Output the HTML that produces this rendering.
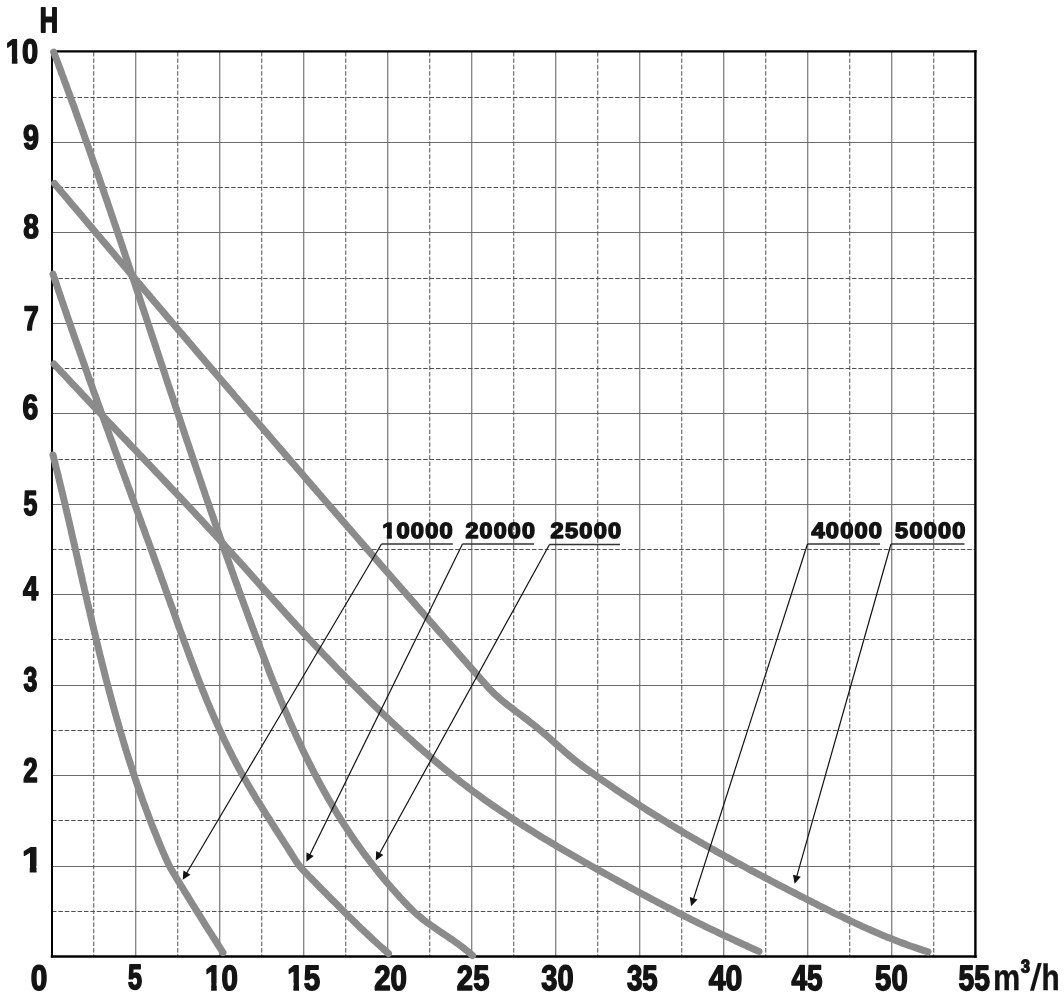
<!DOCTYPE html>
<html><head><meta charset="utf-8"><title>Pump curves</title>
<style>
html,body{margin:0;padding:0;background:#fff;}
body{width:1064px;height:1000px;overflow:hidden;}
svg{display:block;}
.t text{text-rendering:geometricPrecision;font-family:"Liberation Sans",Arial,sans-serif;font-weight:bold;font-size:100px;fill:#141414;stroke:#141414;stroke-linejoin:round;}
.t{opacity:0.999;}
</style></head><body>
<svg width="1064" height="1000" viewBox="0 0 1064 1000">
<rect width="1064" height="1000" fill="#fff"/>
<path d="M135.75,52V956M219.75,52V956M303.75,52V956M387.75,52V956M471.75,52V956M555.75,52V956M639.75,52V956M723.75,52V956M807.75,52V956M891.75,52V956M52,866.50H976M52,775.50H976M52,685.50H976M52,594.50H976M52,504.50H976M52,413.50H976M52,323.50H976M52,232.50H976M52,142.50H976" fill="none" stroke="#6a6a6a" stroke-width="1.1"/>
<path d="M93.75,52V956M177.75,52V956M261.75,52V956M345.75,52V956M429.75,52V956M513.75,52V956M597.75,52V956M681.75,52V956M765.75,52V956M849.75,52V956M933.75,52V956M52,911.50H976M52,820.50H976M52,730.50H976M52,639.50H976M52,549.50H976M52,459.50H976M52,368.50H976M52,278.50H976M52,187.50H976M52,97.50H976" fill="none" stroke="#505050" stroke-width="1" stroke-dasharray="4.5 1.9"/>
<g stroke="#000" fill="none" stroke-linecap="square"><path d="M52,51.4V956.6" stroke-width="2"/><path d="M52,51.4H975.4" stroke-width="2.4"/><path d="M975.4,51.4V956.6" stroke-width="2.4"/><path d="M52,956.6H975.4" stroke-width="2.5"/></g>
<g fill="none" stroke="#8b8b8b" stroke-width="7" stroke-linecap="round" stroke-linejoin="round">
<path d="M53.0,455.0 L53.8,458.0 L54.5,460.9 L55.2,463.8 L55.9,466.7 L56.6,469.6 L57.4,472.5 L58.1,475.4 L58.8,478.3 L59.5,481.2 L60.2,484.2 L60.9,487.1 L61.6,490.0 L62.3,492.9 L63.0,495.8 L63.7,498.8 L64.4,501.7 L65.1,504.6 L65.7,507.5 L66.4,510.5 L67.1,513.4 L67.8,516.3 L68.5,519.2 L69.2,522.2 L69.8,525.1 L70.5,528.0 L71.2,531.0 L71.8,533.9 L72.5,536.8 L73.2,539.7 L73.9,542.7 L74.5,545.6 L75.2,548.5 L75.9,551.5 L76.5,554.4 L77.2,557.3 L77.9,560.2 L78.5,563.2 L79.2,566.1 L79.9,569.0 L80.5,572.0 L81.2,574.9 L81.9,577.8 L82.5,580.7 L83.2,583.7 L83.9,586.6 L84.5,589.5 L85.2,592.5 L85.9,595.4 L86.6,598.3 L87.2,601.2 L87.9,604.2 L88.6,607.1 L89.3,610.0 L90.0,612.9 L90.6,615.9 L91.3,618.8 L92.0,621.7 L92.7,624.6 L93.4,627.6 L94.1,630.5 L94.8,633.4 L95.5,636.3 L96.2,639.2 L96.9,642.2 L97.6,645.1 L98.3,648.0 L99.0,650.9 L99.7,653.8 L100.5,656.8 L101.2,659.7 L101.9,662.6 L102.6,665.5 L103.4,668.4 L104.1,671.3 L104.8,674.2 L105.6,677.1 L106.3,680.1 L107.1,683.0 L107.9,685.9 L108.6,688.8 L109.4,691.7 L110.2,694.6 L110.9,697.5 L111.7,700.4 L112.5,703.3 L113.3,706.2 L114.1,709.1 L114.9,712.0 L115.7,714.9 L116.5,717.8 L117.3,720.6 L118.2,723.5 L119.0,726.4 L119.8,729.3 L120.7,732.2 L121.5,735.1 L122.4,738.0 L123.2,740.8 L124.1,743.7 L125.0,746.6 L125.8,749.5 L126.7,752.3 L127.6,755.2 L128.5,758.1 L129.4,760.9 L130.3,763.8 L131.3,766.6 L132.2,769.5 L133.1,772.4 L134.1,775.2 L135.0,778.1 L136.0,780.9 L136.9,783.7 L137.9,786.6 L138.9,789.4 L139.9,792.3 L140.9,795.1 L141.9,797.9 L142.9,800.8 L143.9,803.6 L145.0,806.4 L146.0,809.2 L147.1,812.0 L148.1,814.8 L149.2,817.7 L150.3,820.5 L151.3,823.3 L152.4,826.1 L153.5,828.9 L154.6,831.6 L155.8,834.4 L156.9,837.2 L158.0,840.0 L159.2,842.8 L160.3,845.5 L161.5,848.3 L162.7,851.1 L163.9,853.8 L165.1,856.6 L166.3,859.3 L167.5,862.1 L168.8,864.8 L170.2,867.4 L171.7,870.0 L173.2,872.6 L174.8,875.2 L176.3,877.8 L177.9,880.3 L179.4,882.9 L181.0,885.5 L182.6,888.0 L184.1,890.6 L185.7,893.1 L187.3,895.7 L188.9,898.3 L190.4,900.8 L192.0,903.4 L193.6,905.9 L195.2,908.5 L196.8,911.0 L198.4,913.6 L200.0,916.1 L201.5,918.7 L203.1,921.2 L204.7,923.8 L206.3,926.3 L207.9,928.9 L209.5,931.4 L211.2,933.9 L212.8,936.5 L214.4,939.0 L216.0,941.5 L217.6,944.1 L219.2,946.6 L220.8,949.0 L222.4,951.6 L223.0,952.5"/>
<path d="M53.0,274.0 L54.0,277.0 L54.9,279.7 L55.9,282.6 L56.8,285.4 L57.8,288.2 L58.7,291.1 L59.7,293.9 L60.6,296.8 L61.6,299.6 L62.6,302.4 L63.5,305.3 L64.5,308.1 L65.5,311.0 L66.5,313.8 L67.4,316.6 L68.4,319.5 L69.4,322.3 L70.4,325.2 L71.3,328.0 L72.3,330.8 L73.3,333.7 L74.3,336.5 L75.3,339.3 L76.3,342.2 L77.3,345.0 L78.3,347.8 L79.3,350.7 L80.3,353.5 L81.3,356.3 L82.3,359.2 L83.3,362.0 L84.3,364.8 L85.3,367.7 L86.3,370.5 L87.3,373.3 L88.3,376.1 L89.3,379.0 L90.3,381.8 L91.3,384.6 L92.3,387.4 L93.3,390.3 L94.3,393.1 L95.3,395.9 L96.4,398.7 L97.4,401.6 L98.4,404.4 L99.4,407.2 L100.4,410.0 L101.4,412.9 L102.5,415.7 L103.5,418.5 L104.5,421.3 L105.5,424.2 L106.5,427.0 L107.6,429.8 L108.6,432.6 L109.6,435.4 L110.6,438.3 L111.7,441.1 L112.7,443.9 L113.7,446.7 L114.7,449.5 L115.8,452.4 L116.8,455.2 L117.8,458.0 L118.9,460.8 L119.9,463.6 L120.9,466.5 L121.9,469.3 L123.0,472.1 L124.0,474.9 L125.0,477.7 L126.1,480.6 L127.1,483.4 L128.1,486.2 L129.2,489.0 L130.2,491.8 L131.2,494.7 L132.2,497.5 L133.3,500.3 L134.3,503.1 L135.3,505.9 L136.4,508.8 L137.4,511.6 L138.4,514.4 L139.4,517.2 L140.5,520.0 L141.5,522.9 L142.5,525.7 L143.6,528.5 L144.6,531.3 L145.6,534.1 L146.6,537.0 L147.7,539.8 L148.7,542.6 L149.7,545.4 L150.7,548.2 L151.8,551.1 L152.8,553.9 L153.8,556.7 L154.8,559.5 L155.8,562.4 L156.9,565.2 L157.9,568.0 L158.9,570.8 L159.9,573.6 L160.9,576.5 L161.9,579.3 L163.0,582.1 L164.0,584.9 L165.0,587.8 L166.0,590.6 L167.0,593.4 L168.0,596.3 L169.0,599.1 L170.0,601.9 L171.0,604.7 L172.1,607.6 L173.1,610.4 L174.1,613.2 L175.1,616.0 L176.1,618.9 L177.1,621.7 L178.1,624.5 L179.1,627.3 L180.1,630.2 L181.2,633.0 L182.2,635.8 L183.2,638.6 L184.2,641.5 L185.3,644.3 L186.3,647.1 L187.3,649.9 L188.4,652.7 L189.4,655.5 L190.4,658.4 L191.5,661.2 L192.6,664.0 L193.6,666.8 L194.7,669.6 L195.8,672.4 L196.8,675.2 L197.9,678.0 L199.0,680.8 L200.1,683.6 L201.2,686.4 L202.3,689.2 L203.4,692.0 L204.6,694.7 L205.7,697.5 L206.8,700.3 L208.0,703.1 L209.2,705.8 L210.3,708.6 L211.5,711.4 L212.7,714.1 L213.9,716.9 L215.1,719.6 L216.3,722.4 L217.5,725.1 L218.8,727.8 L220.0,730.6 L221.3,733.3 L222.6,736.0 L223.8,738.7 L225.1,741.4 L226.4,744.1 L227.7,746.8 L229.1,749.5 L230.4,752.2 L231.8,754.9 L233.1,757.6 L234.5,760.2 L235.9,762.9 L237.3,765.5 L238.7,768.2 L240.2,770.8 L241.6,773.4 L243.1,776.1 L244.6,778.7 L246.1,781.3 L247.6,783.9 L249.1,786.5 L250.6,789.0 L252.1,791.6 L253.7,794.2 L255.2,796.8 L256.8,799.3 L258.4,801.9 L260.0,804.4 L261.6,807.0 L263.1,809.5 L264.7,812.1 L266.3,814.6 L268.0,817.1 L269.6,819.7 L271.2,822.2 L272.8,824.7 L274.4,827.3 L276.0,829.8 L277.7,832.3 L279.3,834.8 L280.9,837.4 L282.5,839.9 L284.1,842.4 L285.8,844.9 L287.4,847.5 L289.0,850.0 L290.6,852.5 L292.2,855.1 L293.8,857.6 L295.4,860.2 L297.0,862.7 L298.8,865.1 L300.6,867.4 L302.6,869.6 L304.7,871.8 L306.8,873.9 L308.9,876.1 L311.0,878.2 L313.1,880.4 L315.2,882.5 L317.3,884.7 L319.4,886.8 L321.5,889.0 L323.6,891.1 L325.7,893.2 L327.8,895.4 L329.9,897.5 L332.0,899.6 L334.2,901.8 L336.3,903.9 L338.4,906.0 L340.5,908.2 L342.6,910.3 L344.8,912.4 L346.9,914.5 L349.0,916.6 L351.2,918.7 L353.3,920.8 L355.5,922.9 L357.6,925.0 L359.8,927.1 L361.9,929.2 L364.1,931.2 L366.3,933.3 L368.5,935.4 L370.7,937.4 L372.9,939.5 L375.1,941.5 L377.3,943.5 L379.5,945.5 L381.7,947.5 L384.0,949.5 L386.1,951.4 L388.5,953.5 L388.5,953.5"/>
<path d="M53.7,52.0 L54.8,54.9 L55.9,57.7 L56.9,60.4 L58.0,63.2 L59.0,66.1 L60.1,68.9 L61.1,71.7 L62.1,74.5 L63.2,77.3 L64.2,80.1 L65.3,83.0 L66.3,85.8 L67.3,88.6 L68.3,91.4 L69.4,94.2 L70.4,97.1 L71.4,99.9 L72.5,102.7 L73.5,105.5 L74.5,108.3 L75.5,111.2 L76.5,114.0 L77.5,116.8 L78.6,119.7 L79.6,122.5 L80.6,125.3 L81.6,128.1 L82.6,131.0 L83.6,133.8 L84.6,136.6 L85.6,139.5 L86.6,142.3 L87.6,145.1 L88.6,147.9 L89.6,150.8 L90.6,153.6 L91.6,156.4 L92.6,159.3 L93.5,162.1 L94.5,165.0 L95.5,167.8 L96.5,170.6 L97.5,173.5 L98.5,176.3 L99.5,179.1 L100.4,182.0 L101.4,184.8 L102.4,187.6 L103.4,190.5 L104.3,193.3 L105.3,196.2 L106.3,199.0 L107.3,201.8 L108.2,204.7 L109.2,207.5 L110.2,210.4 L111.1,213.2 L112.1,216.1 L113.1,218.9 L114.0,221.7 L115.0,224.6 L116.0,227.4 L116.9,230.3 L117.9,233.1 L118.8,236.0 L119.8,238.8 L120.8,241.7 L121.7,244.5 L122.7,247.3 L123.6,250.2 L124.6,253.0 L125.5,255.9 L126.5,258.7 L127.5,261.6 L128.4,264.4 L129.4,267.3 L130.3,270.1 L131.3,273.0 L132.2,275.8 L133.2,278.7 L134.1,281.5 L135.1,284.4 L136.0,287.2 L137.0,290.1 L137.9,292.9 L138.9,295.7 L139.8,298.6 L140.7,301.4 L141.7,304.3 L142.6,307.1 L143.6,310.0 L144.5,312.8 L145.5,315.7 L146.4,318.5 L147.4,321.4 L148.3,324.2 L149.3,327.1 L150.2,329.9 L151.1,332.8 L152.1,335.6 L153.0,338.5 L154.0,341.3 L154.9,344.2 L155.9,347.0 L156.8,349.9 L157.8,352.7 L158.7,355.6 L159.6,358.4 L160.6,361.3 L161.5,364.1 L162.5,367.0 L163.4,369.8 L164.4,372.7 L165.3,375.5 L166.2,378.4 L167.2,381.2 L168.1,384.1 L169.1,386.9 L170.0,389.8 L171.0,392.6 L171.9,395.5 L172.9,398.3 L173.8,401.2 L174.8,404.0 L175.7,406.9 L176.7,409.7 L177.6,412.6 L178.6,415.4 L179.5,418.3 L180.5,421.1 L181.4,424.0 L182.4,426.8 L183.3,429.7 L184.3,432.5 L185.2,435.4 L186.2,438.2 L187.1,441.1 L188.1,443.9 L189.1,446.7 L190.0,449.6 L191.0,452.4 L191.9,455.3 L192.9,458.1 L193.8,461.0 L194.8,463.8 L195.8,466.7 L196.7,469.5 L197.7,472.3 L198.7,475.2 L199.6,478.0 L200.6,480.9 L201.6,483.7 L202.5,486.6 L203.5,489.4 L204.5,492.2 L205.4,495.1 L206.4,497.9 L207.4,500.8 L208.4,503.6 L209.3,506.4 L210.3,509.3 L211.3,512.1 L212.3,515.0 L213.3,517.8 L214.2,520.6 L215.2,523.5 L216.2,526.3 L217.2,529.1 L218.2,532.0 L219.2,534.8 L220.2,537.6 L221.2,540.5 L222.2,543.3 L223.2,546.1 L224.1,549.0 L225.1,551.8 L226.1,554.6 L227.1,557.5 L228.2,560.3 L229.2,563.1 L230.2,565.9 L231.2,568.8 L232.2,571.6 L233.2,574.4 L234.2,577.3 L235.2,580.1 L236.2,582.9 L237.3,585.7 L238.3,588.6 L239.3,591.4 L240.3,594.2 L241.3,597.0 L242.4,599.8 L243.4,602.7 L244.4,605.5 L245.5,608.3 L246.5,611.1 L247.5,613.9 L248.6,616.8 L249.6,619.6 L250.7,622.4 L251.7,625.2 L252.7,628.0 L253.8,630.8 L254.8,633.6 L255.9,636.5 L257.0,639.3 L258.0,642.1 L259.1,644.9 L260.1,647.7 L261.2,650.5 L262.3,653.3 L263.3,656.1 L264.4,658.9 L265.5,661.7 L266.6,664.5 L267.7,667.3 L268.7,670.1 L269.8,672.9 L270.9,675.7 L272.0,678.5 L273.1,681.3 L274.3,684.1 L275.4,686.9 L276.5,689.6 L277.6,692.4 L278.8,695.2 L279.9,698.0 L281.0,700.8 L282.2,703.5 L283.3,706.3 L284.5,709.1 L285.7,711.8 L286.9,714.6 L288.1,717.4 L289.2,720.1 L290.4,722.9 L291.7,725.6 L292.9,728.4 L294.1,731.1 L295.3,733.8 L296.6,736.6 L297.8,739.3 L299.1,742.0 L300.4,744.7 L301.6,747.5 L302.9,750.2 L304.2,752.9 L305.5,755.6 L306.9,758.3 L308.2,761.0 L309.5,763.7 L310.9,766.3 L312.2,769.0 L313.6,771.7 L315.0,774.3 L316.4,777.0 L317.8,779.7 L319.2,782.3 L320.6,784.9 L322.1,787.6 L323.5,790.2 L325.0,792.8 L326.5,795.4 L327.9,798.1 L329.4,800.7 L331.0,803.2 L332.5,805.8 L334.0,808.4 L335.6,811.0 L337.1,813.5 L338.7,816.1 L340.3,818.6 L341.9,821.2 L343.5,823.7 L345.2,826.2 L346.8,828.7 L348.5,831.2 L350.1,833.7 L351.8,836.2 L353.5,838.7 L355.2,841.2 L356.9,843.6 L358.7,846.1 L360.4,848.5 L362.2,851.0 L363.9,853.4 L365.7,855.8 L367.5,858.2 L369.3,860.6 L371.2,863.0 L373.0,865.3 L374.9,867.7 L376.7,870.1 L378.6,872.4 L380.5,874.7 L382.4,877.1 L384.3,879.4 L386.3,881.7 L388.2,884.0 L390.2,886.2 L392.1,888.5 L394.1,890.7 L396.1,893.0 L398.1,895.2 L400.1,897.4 L402.2,899.6 L404.2,901.8 L406.3,904.0 L408.4,906.2 L410.5,908.3 L412.6,910.5 L414.8,912.5 L417.0,914.5 L419.3,916.4 L421.6,918.3 L424.0,920.2 L426.4,922.0 L428.8,923.7 L431.3,925.5 L433.7,927.2 L436.2,928.9 L438.7,930.6 L441.2,932.3 L443.7,934.0 L446.2,935.6 L448.6,937.3 L451.1,939.0 L453.6,940.7 L456.0,942.5 L458.5,944.2 L460.9,946.0 L463.3,947.8 L465.6,949.7 L467.9,951.5 L470.1,953.4 L472.5,955.5 L472.5,955.5"/>
<path d="M54.0,364.0 L56.0,366.2 L58.1,368.4 L60.2,370.6 L62.2,372.8 L64.3,375.0 L66.3,377.2 L68.4,379.4 L70.4,381.6 L72.5,383.8 L74.6,386.0 L76.6,388.2 L78.7,390.4 L80.8,392.6 L82.8,394.8 L84.9,397.0 L87.0,399.2 L89.0,401.4 L91.1,403.6 L93.2,405.8 L95.2,408.0 L97.3,410.1 L99.4,412.3 L101.5,414.5 L103.5,416.7 L105.6,418.9 L107.7,421.1 L109.8,423.3 L111.8,425.4 L113.9,427.6 L116.0,429.8 L118.1,432.0 L120.1,434.2 L122.2,436.4 L124.3,438.5 L126.4,440.7 L128.5,442.9 L130.5,445.1 L132.6,447.3 L134.7,449.4 L136.8,451.6 L138.8,453.8 L140.9,456.0 L143.0,458.2 L145.1,460.4 L147.1,462.5 L149.2,464.7 L151.3,466.9 L153.4,469.1 L155.4,471.3 L157.5,473.5 L159.6,475.6 L161.7,477.8 L163.7,480.0 L165.8,482.2 L167.9,484.4 L169.9,486.6 L172.0,488.8 L174.1,491.0 L176.1,493.1 L178.2,495.3 L180.3,497.5 L182.3,499.7 L184.4,501.9 L186.4,504.1 L188.5,506.3 L190.5,508.5 L192.6,510.7 L194.7,512.9 L196.7,515.1 L198.8,517.3 L200.8,519.5 L202.8,521.7 L204.9,523.9 L206.9,526.1 L209.0,528.3 L211.0,530.5 L213.1,532.8 L215.1,535.0 L217.1,537.2 L219.2,539.4 L221.2,541.6 L223.2,543.9 L225.2,546.1 L227.3,548.3 L229.3,550.5 L231.3,552.8 L233.3,555.0 L235.3,557.2 L237.3,559.5 L239.3,561.7 L241.3,563.9 L243.4,566.2 L245.4,568.4 L247.4,570.6 L249.4,572.9 L251.4,575.1 L253.4,577.4 L255.4,579.6 L257.4,581.8 L259.4,584.1 L261.4,586.3 L263.4,588.6 L265.4,590.8 L267.4,593.0 L269.4,595.3 L271.4,597.5 L273.4,599.8 L275.4,602.0 L277.4,604.2 L279.4,606.5 L281.4,608.7 L283.5,610.9 L285.5,613.2 L287.5,615.4 L289.5,617.6 L291.5,619.8 L293.6,622.1 L295.6,624.3 L297.6,626.5 L299.6,628.7 L301.7,630.9 L303.7,633.1 L305.8,635.3 L307.8,637.6 L309.9,639.8 L311.9,641.9 L314.0,644.1 L316.0,646.3 L318.1,648.5 L320.2,650.7 L322.2,652.9 L324.3,655.1 L326.4,657.2 L328.5,659.4 L330.6,661.6 L332.6,663.7 L334.7,665.9 L336.8,668.1 L338.9,670.2 L341.0,672.4 L343.2,674.5 L345.3,676.7 L347.4,678.8 L349.5,681.0 L351.6,683.1 L353.8,685.2 L355.9,687.4 L358.0,689.5 L360.2,691.6 L362.3,693.7 L364.5,695.8 L366.6,698.0 L368.8,700.1 L370.9,702.2 L373.1,704.3 L375.2,706.4 L377.4,708.5 L379.6,710.6 L381.8,712.7 L383.9,714.7 L386.1,716.8 L388.3,718.9 L390.5,721.0 L392.7,723.1 L394.9,725.1 L397.1,727.2 L399.3,729.2 L401.5,731.3 L403.8,733.3 L406.0,735.4 L408.2,737.4 L410.5,739.4 L412.7,741.4 L414.9,743.5 L417.2,745.5 L419.5,747.5 L421.7,749.5 L424.0,751.5 L426.3,753.4 L428.5,755.4 L430.8,757.4 L433.1,759.3 L435.4,761.3 L437.7,763.2 L440.0,765.2 L442.3,767.1 L444.7,769.0 L447.0,770.9 L449.3,772.8 L451.7,774.7 L454.0,776.6 L456.4,778.4 L458.8,780.3 L461.1,782.2 L463.5,784.0 L465.9,785.8 L468.3,787.7 L470.7,789.5 L473.1,791.3 L475.5,793.0 L477.9,794.8 L480.4,796.6 L482.8,798.4 L485.2,800.1 L487.7,801.8 L490.2,803.6 L492.6,805.3 L495.1,807.0 L497.6,808.7 L500.1,810.4 L502.6,812.1 L505.0,813.7 L507.6,815.4 L510.1,817.1 L512.6,818.7 L515.1,820.3 L517.6,822.0 L520.1,823.6 L522.7,825.2 L525.2,826.8 L527.8,828.4 L530.3,830.0 L532.9,831.6 L535.4,833.2 L538.0,834.8 L540.6,836.4 L543.1,837.9 L545.7,839.5 L548.3,841.0 L550.9,842.6 L553.5,844.1 L556.1,845.7 L558.6,847.2 L561.2,848.7 L563.8,850.2 L566.4,851.7 L569.1,853.3 L571.7,854.8 L574.3,856.3 L576.9,857.8 L579.5,859.3 L582.1,860.8 L584.7,862.3 L587.4,863.7 L590.0,865.2 L592.6,866.7 L595.2,868.2 L597.9,869.7 L600.5,871.1 L603.1,872.6 L605.8,874.1 L608.4,875.5 L611.0,877.0 L613.7,878.5 L616.3,879.9 L618.9,881.4 L621.6,882.8 L624.2,884.3 L626.9,885.7 L629.5,887.2 L632.2,888.6 L634.8,890.0 L637.5,891.5 L640.1,892.9 L642.8,894.3 L645.4,895.7 L648.1,897.1 L650.8,898.6 L653.4,900.0 L656.1,901.4 L658.8,902.8 L661.4,904.2 L664.1,905.6 L666.8,907.0 L669.5,908.3 L672.1,909.7 L674.8,911.1 L677.5,912.5 L680.2,913.8 L682.9,915.2 L685.5,916.6 L688.2,917.9 L690.9,919.3 L693.6,920.6 L696.3,922.0 L699.0,923.3 L701.7,924.6 L704.4,926.0 L707.1,927.3 L709.8,928.6 L712.5,929.9 L715.3,931.2 L718.0,932.5 L720.7,933.8 L723.4,935.1 L726.1,936.4 L728.9,937.7 L731.6,938.9 L734.3,940.2 L737.0,941.5 L739.8,942.7 L742.5,944.0 L745.3,945.2 L748.0,946.5 L750.7,947.7 L753.5,949.0 L756.2,950.2 L759.0,951.4"/>
<path d="M54.5,183.5 L56.5,185.9 L58.4,188.1 L60.3,190.4 L62.2,192.7 L64.2,195.0 L66.1,197.3 L68.0,199.6 L70.0,201.9 L71.9,204.2 L73.8,206.5 L75.8,208.8 L77.7,211.0 L79.6,213.3 L81.6,215.6 L83.5,217.9 L85.4,220.2 L87.4,222.5 L89.3,224.8 L91.2,227.1 L93.2,229.4 L95.1,231.7 L97.0,234.0 L99.0,236.3 L100.9,238.6 L102.8,240.9 L104.8,243.1 L106.7,245.4 L108.7,247.7 L110.6,250.0 L112.5,252.3 L114.5,254.6 L116.4,256.9 L118.3,259.2 L120.3,261.5 L122.2,263.8 L124.2,266.1 L126.1,268.3 L128.0,270.6 L130.0,272.9 L131.9,275.2 L133.9,277.5 L135.8,279.8 L137.7,282.1 L139.7,284.4 L141.6,286.6 L143.6,288.9 L145.5,291.2 L147.5,293.5 L149.4,295.8 L151.3,298.1 L153.3,300.4 L155.2,302.7 L157.2,304.9 L159.1,307.2 L161.1,309.5 L163.0,311.8 L165.0,314.1 L166.9,316.4 L168.8,318.7 L170.8,320.9 L172.7,323.2 L174.7,325.5 L176.6,327.8 L178.6,330.1 L180.5,332.4 L182.5,334.6 L184.4,336.9 L186.4,339.2 L188.3,341.5 L190.3,343.8 L192.2,346.1 L194.1,348.3 L196.1,350.6 L198.0,352.9 L200.0,355.2 L201.9,357.5 L203.9,359.7 L205.8,362.0 L207.8,364.3 L209.7,366.6 L211.7,368.9 L213.6,371.1 L215.6,373.4 L217.5,375.7 L219.5,378.0 L221.4,380.3 L223.4,382.5 L225.3,384.8 L227.3,387.1 L229.3,389.4 L231.2,391.7 L233.2,393.9 L235.1,396.2 L237.1,398.5 L239.0,400.8 L241.0,403.0 L242.9,405.3 L244.9,407.6 L246.8,409.9 L248.8,412.2 L250.7,414.4 L252.7,416.7 L254.7,419.0 L256.6,421.3 L258.6,423.5 L260.5,425.8 L262.5,428.1 L264.4,430.4 L266.4,432.6 L268.4,434.9 L270.3,437.2 L272.3,439.5 L274.2,441.7 L276.2,444.0 L278.1,446.3 L280.1,448.6 L282.1,450.8 L284.0,453.1 L286.0,455.4 L287.9,457.6 L289.9,459.9 L291.9,462.2 L293.8,464.5 L295.8,466.7 L297.7,469.0 L299.7,471.3 L301.7,473.5 L303.6,475.8 L305.6,478.1 L307.5,480.4 L309.5,482.6 L311.5,484.9 L313.4,487.2 L315.4,489.4 L317.4,491.7 L319.3,494.0 L321.3,496.2 L323.2,498.5 L325.2,500.8 L327.2,503.0 L329.1,505.3 L331.1,507.6 L333.1,509.8 L335.0,512.1 L337.0,514.4 L339.0,516.7 L340.9,518.9 L342.9,521.2 L344.9,523.5 L346.8,525.7 L348.8,528.0 L350.8,530.2 L352.7,532.5 L354.7,534.8 L356.7,537.0 L358.6,539.3 L360.6,541.6 L362.6,543.8 L364.5,546.1 L366.5,548.4 L368.5,550.6 L370.5,552.9 L372.4,555.2 L374.4,557.4 L376.4,559.7 L378.3,561.9 L380.3,564.2 L382.3,566.5 L384.2,568.7 L386.2,571.0 L388.2,573.3 L390.2,575.5 L392.1,577.8 L394.1,580.0 L396.1,582.3 L398.0,584.6 L400.0,586.8 L402.0,589.1 L404.0,591.3 L405.9,593.6 L407.9,595.9 L409.9,598.1 L411.9,600.4 L413.8,602.6 L415.8,604.9 L417.8,607.2 L419.8,609.4 L421.7,611.7 L423.7,613.9 L425.7,616.2 L427.7,618.5 L429.6,620.7 L431.6,623.0 L433.6,625.2 L435.6,627.5 L437.5,629.7 L439.5,632.0 L441.5,634.3 L443.5,636.5 L445.5,638.8 L447.4,641.0 L449.4,643.3 L451.4,645.5 L453.4,647.8 L455.4,650.0 L457.3,652.3 L459.3,654.6 L461.3,656.8 L463.3,659.1 L465.3,661.3 L467.2,663.6 L469.2,665.8 L471.2,668.1 L473.2,670.3 L475.2,672.6 L477.1,674.8 L479.1,677.1 L481.1,679.3 L483.1,681.6 L485.1,683.9 L487.1,686.1 L489.1,688.3 L491.1,690.5 L493.2,692.6 L495.4,694.7 L497.6,696.7 L499.9,698.7 L502.2,700.6 L504.5,702.5 L506.9,704.4 L509.2,706.2 L511.6,708.0 L514.0,709.9 L516.4,711.7 L518.8,713.5 L521.2,715.3 L523.6,717.1 L526.0,718.9 L528.4,720.7 L530.7,722.6 L533.1,724.4 L535.4,726.3 L537.8,728.2 L540.1,730.1 L542.4,732.0 L544.7,734.0 L546.9,735.9 L549.2,737.9 L551.4,739.9 L553.7,741.9 L555.9,743.9 L558.2,745.9 L560.4,747.9 L562.7,749.8 L564.9,751.8 L567.2,753.8 L569.5,755.7 L571.8,757.6 L574.1,759.5 L576.5,761.4 L578.8,763.2 L581.2,765.1 L583.6,766.9 L586.0,768.6 L588.5,770.4 L590.9,772.1 L593.3,773.9 L595.8,775.6 L598.3,777.3 L600.7,779.1 L603.2,780.8 L605.6,782.5 L608.1,784.2 L610.6,785.9 L613.1,787.6 L615.5,789.3 L618.0,791.0 L620.5,792.6 L623.0,794.3 L625.5,796.0 L628.0,797.6 L630.5,799.3 L633.0,800.9 L635.5,802.6 L638.0,804.2 L640.5,805.9 L643.1,807.5 L645.6,809.1 L648.1,810.7 L650.6,812.3 L653.2,813.9 L655.7,815.5 L658.3,817.1 L660.8,818.7 L663.4,820.3 L665.9,821.8 L668.5,823.4 L671.1,825.0 L673.6,826.5 L676.2,828.1 L678.8,829.6 L681.3,831.1 L683.9,832.7 L686.5,834.2 L689.1,835.7 L691.7,837.2 L694.3,838.7 L696.9,840.3 L699.5,841.8 L702.1,843.2 L704.7,844.7 L707.3,846.2 L709.9,847.7 L712.5,849.2 L715.1,850.6 L717.7,852.1 L720.4,853.6 L723.0,855.0 L725.6,856.5 L728.2,857.9 L730.9,859.4 L733.5,860.8 L736.1,862.3 L738.8,863.7 L741.4,865.1 L744.1,866.5 L746.7,868.0 L749.3,869.4 L752.0,870.8 L754.6,872.2 L757.3,873.6 L759.9,875.0 L762.6,876.4 L765.2,877.8 L767.9,879.2 L770.6,880.6 L773.2,882.0 L775.9,883.4 L778.5,884.8 L781.2,886.2 L783.9,887.5 L786.5,888.9 L789.2,890.3 L791.9,891.7 L794.5,893.0 L797.2,894.4 L799.9,895.8 L802.5,897.1 L805.2,898.5 L807.9,899.9 L810.6,901.2 L813.2,902.6 L815.9,903.9 L818.6,905.3 L821.3,906.6 L824.0,908.0 L826.7,909.3 L829.3,910.6 L832.0,912.0 L834.7,913.3 L837.4,914.6 L840.1,915.9 L842.8,917.2 L845.5,918.5 L848.2,919.8 L850.9,921.1 L853.7,922.4 L856.4,923.6 L859.1,924.9 L861.8,926.2 L864.6,927.4 L867.3,928.6 L870.0,929.8 L872.8,931.0 L875.6,932.2 L878.3,933.4 L881.1,934.6 L883.8,935.7 L886.6,936.9 L889.4,938.0 L892.2,939.1 L895.0,940.2 L897.8,941.3 L900.6,942.4 L903.4,943.4 L906.2,944.4 L909.0,945.5 L911.9,946.5 L914.7,947.4 L917.5,948.4 L920.4,949.4 L923.2,950.3 L926.0,951.2 L928.0,951.8"/>
</g>
<g stroke="#111" stroke-width="1.2" fill="#111">
<line x1="381.50" y1="544.00" x2="452.80" y2="544.00" stroke="#333" stroke-width="1.5"/>
<line x1="381.50" y1="544.00" x2="186.15" y2="873.95"/>
<polygon points="183.40,878.60 183.99,871.51 189.33,874.67"/>
<line x1="462.50" y1="544.00" x2="534.00" y2="544.00" stroke="#333" stroke-width="1.5"/>
<line x1="462.50" y1="544.00" x2="309.38" y2="855.65"/>
<polygon points="307.00,860.50 307.04,853.39 312.60,856.12"/>
<line x1="549.50" y1="544.50" x2="620.00" y2="544.50" stroke="#333" stroke-width="1.5"/>
<line x1="549.50" y1="544.50" x2="379.00" y2="854.47"/>
<polygon points="376.40,859.20 376.77,852.10 382.20,855.09"/>
<line x1="807.50" y1="544.00" x2="880.00" y2="544.00" stroke="#333" stroke-width="1.5"/>
<line x1="807.50" y1="544.00" x2="693.15" y2="899.86"/>
<polygon points="691.50,905.00 690.51,897.96 696.41,899.86"/>
<line x1="891.00" y1="544.00" x2="964.50" y2="544.00" stroke="#333" stroke-width="1.5"/>
<line x1="891.00" y1="544.00" x2="796.47" y2="877.30"/>
<polygon points="795.00,882.50 793.76,875.50 799.73,877.19"/>
</g>
<defs><clipPath id="c0" clipPathUnits="userSpaceOnUse"><rect x="-50" y="-200" width="10000" height="181.56"/><rect x="20.85" y="-200" width="18.70" height="400"/><rect x="55.88" y="-200" width="10000" height="400"/></clipPath><clipPath id="c1" clipPathUnits="userSpaceOnUse"><rect x="-50" y="-200" width="10000" height="182.09"/><rect x="21.38" y="-200" width="17.64" height="400"/><rect x="56.41" y="-200" width="10000" height="400"/></clipPath><clipPath id="c2" clipPathUnits="userSpaceOnUse"><rect x="-50" y="-200" width="10000" height="181.59"/><rect x="20.88" y="-200" width="18.63" height="400"/><rect x="55.91" y="-200" width="10000" height="400"/></clipPath><clipPath id="c3" clipPathUnits="userSpaceOnUse"><rect x="-50" y="-200" width="10000" height="181.60"/><rect x="20.89" y="-200" width="18.62" height="400"/><rect x="55.92" y="-200" width="10000" height="400"/></clipPath><clipPath id="c4" clipPathUnits="userSpaceOnUse"><rect x="-50" y="-200" width="10000" height="180.41"/><rect x="19.70" y="-200" width="21.00" height="400"/><rect x="59.81" y="-200" width="10000" height="400"/></clipPath></defs>
<g class="t">
<text transform="matrix(0.2534 0 0 0.3507 39.68 31.90)" stroke-width="5.13">H</text>
<text transform="matrix(0.2905 0 0 0.3392 5.86 62.90)" stroke-width="4.47" clip-path="url(#c0)">10</text>
<text transform="matrix(0.2875 0 0 0.3443 22.90 148.88)" stroke-width="4.52">9</text>
<text transform="matrix(0.2816 0 0 0.3372 23.21 238.38)" stroke-width="4.62">8</text>
<text transform="matrix(0.2681 0 0 0.3404 23.68 329.72)" stroke-width="4.85">7</text>
<text transform="matrix(0.2833 0 0 0.3466 22.52 419.46)" stroke-width="4.59">6</text>
<text transform="matrix(0.2480 0 0 0.3469 23.51 515.14)" stroke-width="5.24">5</text>
<text transform="matrix(0.2736 0 0 0.3376 23.00 600.30)" stroke-width="4.75">4</text>
<text transform="matrix(0.2480 0 0 0.3410 23.45 690.77)" stroke-width="5.24">3</text>
<text transform="matrix(0.2592 0 0 0.3439 23.17 781.54)" stroke-width="5.02">2</text>
<text transform="matrix(0.3805 0 0 0.3549 21.65 872.39)" stroke-width="3.42" clip-path="url(#c1)">1</text>
<text transform="matrix(0.2979 0 0 0.3530 30.76 989.58)" stroke-width="4.36">0</text>
<text transform="matrix(0.2520 0 0 0.3499 128.09 989.45)" stroke-width="5.16">5</text>
<text transform="matrix(0.2945 0 0 0.3514 205.04 989.57)" stroke-width="4.41" clip-path="url(#c2)">10</text>
<text transform="matrix(0.2956 0 0 0.3535 287.33 989.57)" stroke-width="4.40" clip-path="url(#c3)">15</text>
<text transform="matrix(0.2952 0 0 0.3514 374.16 989.57)" stroke-width="4.40">20</text>
<text transform="matrix(0.2924 0 0 0.3512 456.87 989.57)" stroke-width="4.45">25</text>
<text transform="matrix(0.2905 0 0 0.3538 541.27 989.55)" stroke-width="4.48">30</text>
<text transform="matrix(0.2764 0 0 0.3527 626.90 989.52)" stroke-width="4.70">35</text>
<text transform="matrix(0.3019 0 0 0.3519 708.75 989.59)" stroke-width="4.31">40</text>
<text transform="matrix(0.2792 0 0 0.3550 791.39 989.52)" stroke-width="4.66">45</text>
<text transform="matrix(0.2933 0 0 0.3540 875.07 989.56)" stroke-width="4.43">50</text>
<text transform="matrix(0.2819 0 0 0.3525 958.50 989.53)" stroke-width="4.61">55</text>
<text transform="matrix(0.3066 0 0 0.3674 992.90 989.82)" stroke-width="0.98">m</text>
<text transform="matrix(0.2897 0 0 0.3663 1020.42 984.68)" stroke-width="2.76">³</text>
<text transform="matrix(0.3360 0 -0.0407 0.3745 1029.75 990.05)" stroke-width="0">/</text>
<text transform="matrix(0.2979 0 0 0.3645 1041.41 989.76)" stroke-width="1.34">h</text>
<text transform="matrix(0.2362 0 0 0.2199 382.19 537.94)" stroke-width="6.77" letter-spacing="5.08" clip-path="url(#c4)">10000</text>
<text transform="matrix(0.2325 0 0 0.2196 465.40 537.92)" stroke-width="6.88" letter-spacing="5.16">20000</text>
<text transform="matrix(0.2365 0 0 0.2199 550.59 537.94)" stroke-width="6.76" letter-spacing="5.07">25000</text>
<text transform="matrix(0.2360 0 0 0.2224 811.53 537.92)" stroke-width="6.78" letter-spacing="5.08">40000</text>
<text transform="matrix(0.2358 0 0 0.2224 895.09 537.92)" stroke-width="6.79" letter-spacing="5.09">50000</text>
</g>
</svg></body></html>
